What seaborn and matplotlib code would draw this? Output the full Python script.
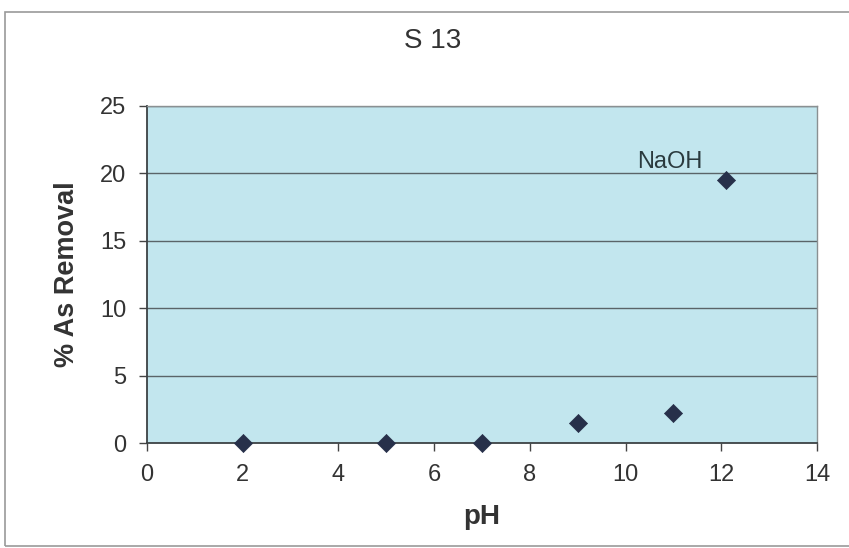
import pandas as pd
import numpy as np
import matplotlib.pyplot as plt
import seaborn as sns
from matplotlib.patches import Rectangle

# values
ph = [2, 5, 7, 9, 11, 12.1]
removal = [0.0, 0.0, 0.0, 1.5, 2.25, 19.5]
x_ticks = [0, 2, 4, 6, 8, 10, 12, 14]
y_ticks = [0, 5, 10, 15, 20, 25]

df = pd.DataFrame({'pH': ph, 'removal': removal})

sns.set_style('white')
plt.rcParams['font.family'] = ['Liberation Sans', 'DejaVu Sans']

fig = plt.figure(figsize=(8.49, 5.48), dpi=100)
ax = fig.add_axes([0.1731, 0.1916, 0.7892, 0.615])
ax.set_facecolor('#c2e6ee')

# horizontal gridlines like the spreadsheet chart
for yv in y_ticks[1:]:
    ax.axhline(yv, color='#5a6468', linewidth=1.0, zorder=1)

sns.scatterplot(x='pH', y='removal', data=df, ax=ax, marker='D', s=85,
                color='#27304a', edgecolor='#27304a', linewidth=0.5,
                clip_on=False, zorder=3)

ax.text(10.93, 20.4, 'NaOH', fontsize=17, color='#2a3a3e',
        ha='center', va='baseline')

ax.set_xlim(0, 14)
ax.set_ylim(0, 25)
ax.set_xticks(x_ticks)
ax.set_yticks(y_ticks)
ax.tick_params(axis='both', direction='out', length=6, width=1, color='#444444',
               labelsize=17, labelcolor='#333333', pad=9, left=True, bottom=True)

for side in ['left', 'bottom']:
    ax.spines[side].set_color('#3c4244')
    ax.spines[side].set_linewidth(1.3)
for side in ['top', 'right']:
    ax.spines[side].set_color('#8a9092')
    ax.spines[side].set_linewidth(1.0)

ax.set_xlabel('pH', fontsize=20, fontweight='bold', color='#333333', labelpad=13)
ax.set_ylabel('% As Removal', fontsize=19.5, fontweight='bold', color='#333333', labelpad=14)

fig.text(433 / 849, 1 - 41 / 548, 'S 13', fontsize=20, color='#333333',
         ha='center', va='center')

# outer chart frame
fig.patches.append(Rectangle((5 / 849, 1 - 546 / 548), 1.0, 534 / 548,
                             transform=fig.transFigure, fill=False,
                             edgecolor='#9a9a9a', linewidth=1.2))

plt.savefig('out.png', dpi=100)
plt.close()
